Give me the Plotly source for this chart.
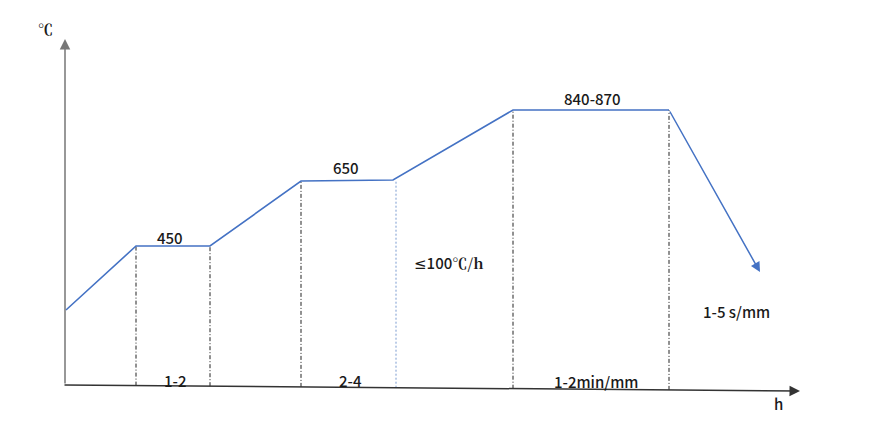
import plotly.graph_objects as go

# Schematic heat-treatment profile (x: time, schematic units; y: temperature, schematic units)
profile_x = [66, 136, 210, 301, 393, 513, 669]
profile_y = [121, 185, 185, 250, 251, 321, 321]
cool_end_x = 760
cool_end_y = 159

# Dash-dot guide lines (x positions, top y, bottom y on the time axis)
guide_x = [136, 210, 301, 396, 513, 669]
guide_top = [185, 185, 250, 251, 321, 321]
guide_bottom = [45.4, 44.8, 44.1, 43.3, 42.3, 41.1]

# Axes (start / end points)
yaxis_pts = [(65, 46), (65, 392)]
xaxis_pts = [(63, 46), (800, 40)]

SERIF = "'Noto Serif CJK SC','Liberation Serif',serif"
# Text labels
label_text = ["450", "650", "840-870",
              "<span style=\"font-family:'DejaVu Sans'\">≤</span>100"
              "<span style=\"font-family:" + SERIF + ";font-weight:700\">℃/h</span>",
              "1-5 s/mm", "1-2", "2-4", "1-2min/mm"]
label_x = [170, 346, 592, 449, 736, 175, 350, 596]
label_y = [194, 264, 333, 169, 120, 51, 51, 50]

axis_labels = ["℃", "h"]
axis_label_x = [45, 778]
axis_label_y = [403, 28]

BLUE = "#4472C4"
FONT = "Noto Sans CJK SC"

fig = go.Figure()

# guides
for i, gx in enumerate(guide_x):
    is_blue = (i == 3)
    fig.add_trace(go.Scatter(
        x=[gx, gx], y=[guide_bottom[i], guide_top[i]], mode="lines",
        line=dict(color="#7a9bd0" if is_blue else "#222222", width=1,
                  dash="2px,2px" if is_blue else "4px,2px,1px,2px"),
        hoverinfo="skip", showlegend=False))

# profile
fig.add_trace(go.Scatter(x=profile_x, y=profile_y, mode="lines",
                         line=dict(color=BLUE, width=1.6), showlegend=False))

annotations = []
# cooling arrow
annotations.append(dict(x=cool_end_x, y=cool_end_y, ax=profile_x[-1], ay=profile_y[-1],
                        xref="x", yref="y", axref="x", ayref="y", text="",
                        showarrow=True, arrowhead=2, arrowsize=1.3, arrowwidth=1.5,
                        arrowcolor=BLUE))
# axes arrows
for pts, col in [(yaxis_pts, "#777777"), (xaxis_pts, "#333333")]:
    (x0, y0), (x1, y1) = pts
    annotations.append(dict(x=x1, y=y1, ax=x0, ay=y0, xref="x", yref="y",
                            axref="x", ayref="y", text="", showarrow=True,
                            arrowhead=2, arrowsize=1.4, arrowwidth=1.5, arrowcolor=col))

for t, x, y in zip(label_text, label_x, label_y):
    annotations.append(dict(x=x, y=y, xref="x", yref="y", text=t, showarrow=False,
                            font=dict(family=FONT, size=15, color="#1a1a1a", weight=500)))
annotations.append(dict(x=axis_label_x[0], y=axis_label_y[0], xref="x", yref="y",
                        text=axis_labels[0], showarrow=False,
                        font=dict(family="Noto Serif CJK SC, Liberation Serif, serif",
                                  size=15, color="#1a1a1a", weight=700)))
annotations.append(dict(x=axis_label_x[1], y=axis_label_y[1], xref="x", yref="y",
                        text=axis_labels[1], showarrow=False,
                        font=dict(family=FONT, size=15, color="#1a1a1a", weight=500)))

# The page body has an 8px margin: size the figure so it sits in the 882x431 window
fig.update_layout(
    width=866, height=415,
    margin=dict(l=0, r=0, t=0, b=0),
    paper_bgcolor="white", plot_bgcolor="white",
    xaxis=dict(range=[8, 874], visible=False, fixedrange=True),
    yaxis=dict(range=[8, 423], visible=False, fixedrange=True),
    annotations=annotations,
    showlegend=False,
)

fig.write_html("out.html")
